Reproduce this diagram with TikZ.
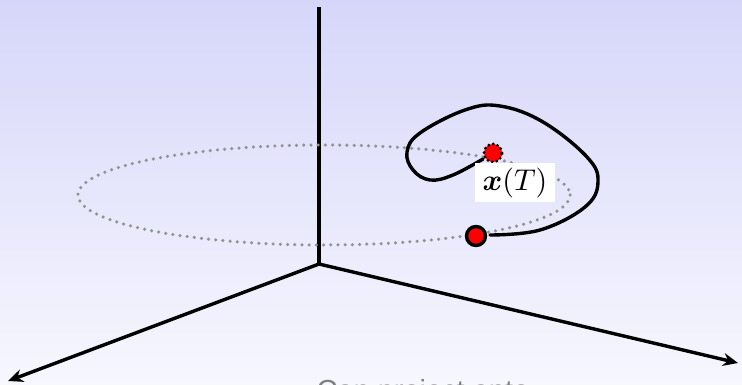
\documentclass[tikz,border=0pt]{standalone}
\usepackage{fontspec}
\setsansfont{Liberation Sans}
\usepackage{amsmath,bm}
\usetikzlibrary{arrows.meta}
\begin{document}
\begin{tikzpicture}[x=1pt,y=-1pt,
  axis/.style={line width=3.4pt,black},
  axisarrow/.style={axis,-{Stealth[length=15pt,width=13pt]}},
  orbit/.style={line width=3.5pt,gray!85,line cap=round,dash pattern=on 0pt off 7.2pt},
  traj/.style={line width=3.4pt,black,line cap=round},
  startpt/.style={circle,fill=red,draw=black,line width=3.4pt,minimum size=19pt,inner sep=0pt},
  endpt/.style={circle,fill=red,draw=black,line width=3.2pt,line cap=round,dash pattern=on 0pt off 4.6pt,minimum size=18pt,inner sep=0pt},
  lab/.style={fill=white,inner sep=0pt},
  caption/.style={font=\sffamily\fontsize{29}{32}\selectfont,text=gray,anchor=base west}]
\useasboundingbox (0,0) rectangle (742,385);
\shade[top color={rgb,255:red,214;green,214;blue,250},bottom color={rgb,255:red,247;green,247;blue,254}] (0,0) rectangle (742,385);
\clip (0,0) rectangle (742,385);
% axes
\coordinate (O) at (319,264);
\coordinate (ztop) at (319,7);
\coordinate (xend) at (8,381);
\coordinate (yend) at (738,363);
\draw[axis] (O) -- (ztop);
\draw[axisarrow] (O) -- (xend);
\draw[axisarrow] (O) -- (yend);
% orbit
\draw[orbit] (324,195) ellipse [x radius=246, y radius=50];
% trajectory
\coordinate (c0) at (490,235);
\coordinate (cT) at (483,159);
\draw[traj] plot[smooth,tension=0.65] coordinates {(c0) (540,230) (585,207) (598,182) (587,157) (543,122) (500,106) (465,110) (420,133) (407,152) (413,170) (430,180) (453,175) (cT)};
\node[startpt] (x0) at (476,236) {};
\node[endpt] (xT) at (493,153) {};
\node[lab,minimum width=80pt,minimum height=39pt] (lbl) at (515,182.5) {};
\node[scale=3.0,transform shape,inner sep=0pt] (lbltxt) at (lbl.center) {$\bm{x}(T)$};
\node[caption] (cap) at (313,400) {Can project onto};
\end{tikzpicture}
\end{document}
